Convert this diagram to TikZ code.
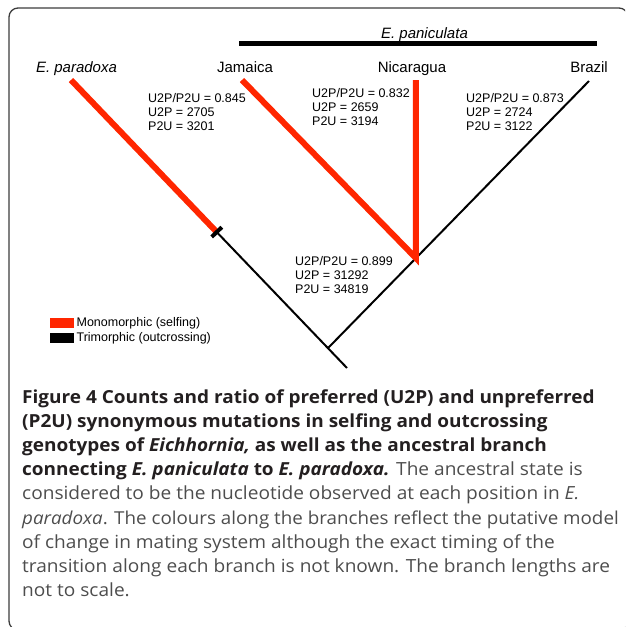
\documentclass[tikz,border=0pt]{standalone}
\usepackage{fontspec}
\setmainfont{Open Sans}[FakeStretch=1.055]
\newfontfamily\figfont{Liberation Sans}
\usetikzlibrary{positioning,calc}
\definecolor{selfred}{RGB}{255,38,0}
\definecolor{framegray}{RGB}{60,60,60}
\definecolor{captiongray}{RGB}{77,77,77}
\definecolor{captionblack}{RGB}{35,31,32}
\tikzstyle{selfing} = [line width=6pt, draw=selfred]
\tikzstyle{outcrossing} = [line width=2pt, draw=black]
\tikzstyle{tip_name} = [anchor=base, inner sep=0pt, font=\figfont\fontsize{15}{18}\selectfont]
\tikzstyle{species_name} = [tip_name, font=\figfont\itshape\fontsize{15}{18}\selectfont]
\tikzstyle{stats} = [anchor=north west, inner sep=0pt, align=left, font=\figfont\fontsize{12.5}{14}\selectfont]
\tikzstyle{legend_box} = [rectangle, minimum width=24pt, minimum height=10pt, inner sep=0pt, anchor=west]
\tikzstyle{legend_text} = [anchor=west, inner sep=0pt, font=\figfont\fontsize{12.5}{14}\selectfont]
\tikzstyle{caption_bold} = [anchor=base west, inner sep=0pt, text=captionblack, font=\bfseries\fontsize{18}{24}\selectfont]
\tikzstyle{caption_plain} = [anchor=base west, inner sep=0pt, text=captiongray, font=\fontsize{18.1}{24}\selectfont]

\begin{document}
\begin{tikzpicture}[x=1pt, y=-1pt]
        \useasboundingbox (0,0) rectangle (625,627);
        \clip (0,0) rectangle (625,627);
        \draw[framegray, line width=1.3pt, rounded corners=9pt] (9,8) rectangle (628,630);
        % Tree ------------------------------------------------------------------------------------
        \coordinate (paradoxa_tip) at (71,80);
        \coordinate (jamaica_tip) at (242,80);
        \coordinate (brazil_tip) at (589,81);
        \coordinate (root) at (347,368);
        \coordinate (tick) at ($(paradoxa_tip)!0.528!(root)$);
        \coordinate (join) at ($(paradoxa_tip)!0.931!(root)$);
        \coordinate (clade) at ($(join)!0.337!(brazil_tip)$);
        \coordinate (nicaragua_tip) at (clade |- jamaica_tip);
        \draw[outcrossing] (tick) -- (root);
        \draw[outcrossing] (join) -- (brazil_tip);
        \draw[selfing] (paradoxa_tip) -- (tick);
        \draw[selfing, line join=miter] (jamaica_tip) -- (clade) -- (nicaragua_tip);
        \draw[outcrossing, line width=4pt] ($(tick)!7pt!90:(root)$) -- ($(tick)!7pt!-90:(root)$);
        % Tip labels ------------------------------------------------------------------------------
        \node[species_name] (paradoxa_label) at (76.5,72.4) {E. paradoxa};
        \node[tip_name] (jamaica_label) at (245,72.4) {Jamaica};
        \node[tip_name] (nicaragua_label) at (412,72.4) {Nicaragua};
        \node[tip_name] (brazil_label) at (589,72.4) {Brazil};
        \node[species_name] (paniculata_label) at (424.5,38.4) {E. paniculata};
        \coordinate (bar_left) at (239,43);
        \coordinate (bar_right) at (597,43);
        \draw[line width=5pt] (bar_left) -- (bar_right);
        % Counts ----------------------------------------------------------------------------------
        \node[stats] (jamaica_stats) at (148,93.5) {U2P/P2U = 0.845\\U2P = 2705\\P2U = 3201};
        \node[stats] (nicaragua_stats) at (312,88.5) {U2P/P2U = 0.832\\U2P = 2659\\P2U = 3194};
        \node[stats] (brazil_stats) at (466,93.5) {U2P/P2U = 0.873\\U2P = 2724\\P2U = 3122};
        \node[stats] (ancestral_stats) at (295,256.5) {U2P/P2U = 0.899\\U2P = 31292\\P2U = 34819};
        % Legend ----------------------------------------------------------------------------------
        \node[legend_box, fill=selfred] (legend_selfing) at (50,323) {};
        \node[legend_box, fill=black, below=5pt of legend_selfing] (legend_outcrossing) {};
        \node[legend_text, right=2pt of legend_selfing] (legend_selfing_text) {Monomorphic (selfing)};
        \node[legend_text, right=2pt of legend_outcrossing] (legend_outcrossing_text) {Trimorphic (outcrossing)};
        % Caption ---------------------------------------------------------------------------------
        \node[caption_bold] (caption_1) at (22,403) {Figure 4 Counts and ratio of preferred (U2P) and unpreferred};
        \node[caption_bold] (caption_2) at (22,427.2) {(P2U) synonymous mutations in selfing and outcrossing};
        \node[caption_bold] (caption_3) at (22,451.4) {genotypes of \textit{Eichhornia,} as well as the ancestral branch};
        \node[caption_plain] (caption_4) at (22,475.6) {\textcolor{captionblack}{\bfseries\fontsize{18}{24}\selectfont connecting \textit{E. paniculata} to \textit{E. paradoxa.}} The ancestral state is};
        \node[caption_plain] (caption_5) at (22,499.8) {considered to be the nucleotide observed at each position in \textit{E.}};
        \node[caption_plain, font=\fontsize{17.8}{24}\selectfont] (caption_6) at (22,524) {\textit{paradoxa}. The colours along the branches reflect the putative model};
        \node[caption_plain] (caption_7) at (22,548.2) {of change in mating system although the exact timing of the};
        \node[caption_plain] (caption_8) at (22,572.4) {transition along each branch is not known. The branch lengths are};
        \node[caption_plain] (caption_9) at (22,596.6) {not to scale.};
    \end{tikzpicture}
\end{document}
